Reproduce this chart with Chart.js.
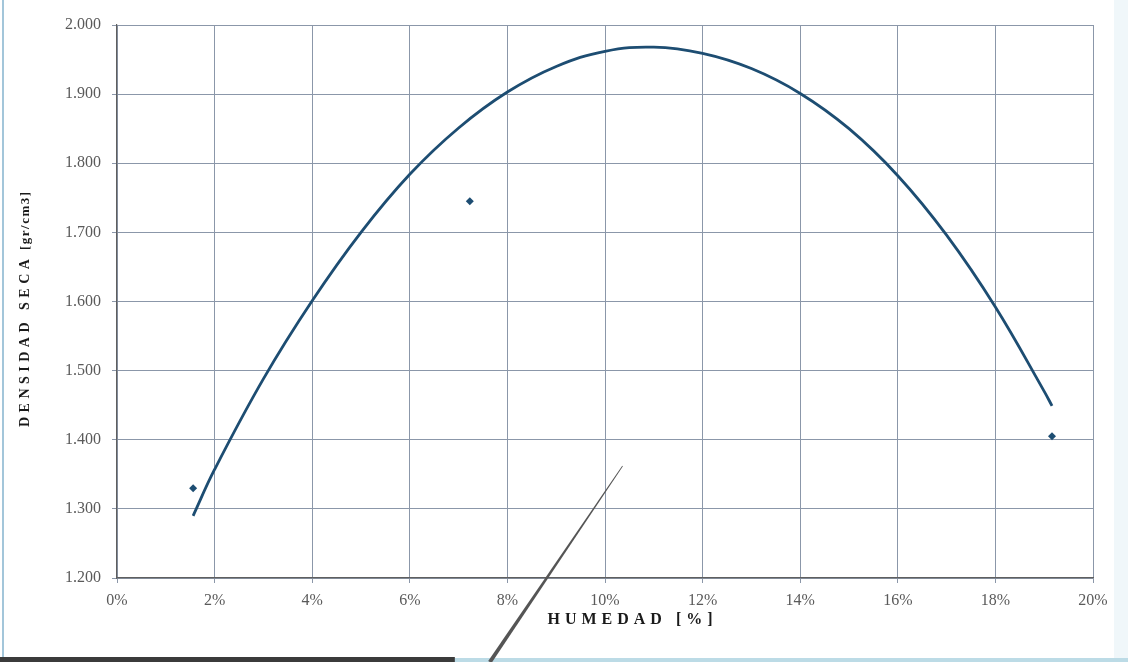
<!DOCTYPE html>
<html>
<head>
<meta charset="utf-8">
<script src="https://cdn.jsdelivr.net/npm/chart.js@4/dist/chart.umd.min.js"></script>
<style>
  html, body { margin: 0; padding: 0; background: #ffffff; }
  canvas { display: block; }
</style>
</head>
<body>
<canvas id="grafico" width="1128" height="662"></canvas>
<script>
// Curva de compactación (ajuste) : humedad [%] vs densidad seca [gr/cm3]
const humedadCurva  = [1.56, 2, 3, 4, 5, 6, 7, 8, 9, 10, 11, 12, 13, 14, 15, 16, 17, 18, 19, 19.16];
const densidadCurva = [1.290, 1.357, 1.488, 1.601, 1.700, 1.784, 1.851, 1.903, 1.940, 1.962, 1.968, 1.959, 1.937, 1.901, 1.850, 1.782, 1.696, 1.592, 1.470, 1.449];

// Ensayos medidos
const humedadMedida  = [1.56, 7.23, 19.16];
const densidadMedida = [1.330, 1.745, 1.405];

// Marcas de los ejes
const humedadTicks  = [0, 2, 4, 6, 8, 10, 12, 14, 16, 18, 20];
const densidadTicks = [1.2, 1.3, 1.4, 1.5, 1.6, 1.7, 1.8, 1.9, 2.0];

// Títulos de los ejes
const tituloX = 'HUMEDAD [%]';
const tituloY = 'DENSIDAD SECA';
const unidadY = '[gr/cm3]';

// Trazo de la flecha indicadora (punta en unidades del gráfico)
const flechaPunta = [10.36, 1.362];
const flechaBaseHumedad = 7.64;

const SERIF = '"Liberation Serif", "DejaVu Serif", serif';
const AZUL = '#1d4d72';
const REJILLA = '#8b97a9';

function anchoEspaciado(ctx, texto, esp) {
  let w = 0;
  for (const ch of texto) w += ctx.measureText(ch).width + esp;
  return w - esp;
}
function textoEspaciado(ctx, texto, x, y, esp) {
  for (const ch of texto) {
    ctx.fillText(ch, x, y);
    x += ctx.measureText(ch).width + esp;
  }
  return x;
}

// Marco de la hoja, títulos y flecha
const decoracion = {
  id: 'decoracion',
  beforeDraw(chart) {
    const ctx = chart.ctx;
    const W = chart.width, H = chart.height;
    ctx.save();
    ctx.fillStyle = '#ffffff';
    ctx.fillRect(0, 0, W, H);
    ctx.fillStyle = '#f0f7fa';
    ctx.fillRect(W - 14, 0, 14, H);
    ctx.restore();
  },
  afterDraw(chart) {
    const ctx = chart.ctx;
    const W = chart.width, H = chart.height;
    const area = chart.chartArea;
    const sx = chart.scales.x, sy = chart.scales.y;
    ctx.save();

    // borde izquierdo y borde inferior
    ctx.fillStyle = '#a3c6da';
    ctx.fillRect(2, 0, 2, H - 5);
    ctx.fillStyle = '#bcdbe6';
    ctx.fillRect(0, H - 4, W, 4);
    ctx.fillStyle = '#3b3b3b';
    ctx.fillRect(0, H - 5, sx.getPixelForValue(flechaBaseHumedad) - 35, 5);

    // flecha indicadora
    const px = sx.getPixelForValue(flechaPunta[0]);
    const py = sy.getPixelForValue(flechaPunta[1]);
    const bx = sx.getPixelForValue(flechaBaseHumedad);
    const by = H;
    const dx = px - bx, dy = py - by;
    const len = Math.hypot(dx, dy);
    const nx = -dy / len, ny = dx / len;
    ctx.fillStyle = '#555555';
    ctx.beginPath();
    ctx.moveTo(bx + nx * 2.0, by + ny * 2.0);
    ctx.lineTo(px + nx * 0.4, py + ny * 0.4);
    ctx.lineTo(px - nx * 0.4, py - ny * 0.4);
    ctx.lineTo(bx - nx * 2.0, by - ny * 2.0);
    ctx.closePath();
    ctx.fill();

    // título eje X
    ctx.fillStyle = '#1a1a1a';
    ctx.textBaseline = 'alphabetic';
    ctx.textAlign = 'left';
    ctx.font = 'bold 16px ' + SERIF;
    const espX = 5;
    const wX = anchoEspaciado(ctx, tituloX, espX);
    const cxX = (area.left + area.right) / 2 + 25;
    textoEspaciado(ctx, tituloX, cxX - wX / 2, area.bottom + 46, espX);

    // título eje Y (girado)
    ctx.font = 'bold 14px ' + SERIF;
    const espY = 4.5;
    const w1 = anchoEspaciado(ctx, tituloY, espY);
    ctx.font = 'bold 13px ' + SERIF;
    const espU = 1.5;
    const w2 = anchoEspaciado(ctx, unidadY, espU);
    const hueco = 9;
    const total = w1 + hueco + w2;
    ctx.translate(29, (area.top + area.bottom) / 2 + 8);
    ctx.rotate(-Math.PI / 2);
    ctx.font = 'bold 14px ' + SERIF;
    let x = textoEspaciado(ctx, tituloY, -total / 2, 0, espY);
    ctx.font = 'bold 13px ' + SERIF;
    textoEspaciado(ctx, unidadY, x - espY + hueco, 0, espU);

    ctx.restore();
  }
};

const puntosCurva = humedadCurva.map((h, i) => ({ x: h, y: densidadCurva[i] }));
const puntosMedidos = humedadMedida.map((h, i) => ({ x: h, y: densidadMedida[i] }));

new Chart(document.getElementById('grafico'), {
  type: 'scatter',
  data: {
    datasets: [
      {
        label: 'Curva',
        data: puntosCurva,
        showLine: true,
        borderColor: AZUL,
        borderWidth: 2.8,
        pointRadius: 0,
        tension: 0.4,
        fill: false,
        order: 2
      },
      {
        label: 'Ensayos',
        data: puntosMedidos,
        showLine: false,
        pointStyle: 'rectRot',
        pointRadius: 4,
        backgroundColor: AZUL,
        borderColor: AZUL,
        borderWidth: 0,
        order: 1
      }
    ]
  },
  options: {
    responsive: false,
    animation: false,
    devicePixelRatio: 1,
    layout: { padding: { left: 0, right: 35, top: 25, bottom: 0 } },
    plugins: {
      legend: { display: false },
      tooltip: { enabled: false }
    },
    scales: {
      x: {
        type: 'linear',
        min: 0,
        max: 20,
        afterBuildTicks: s => { s.ticks = humedadTicks.map(v => ({ value: v })); },
        afterFit: s => { s.height = 84; },
        ticks: {
          callback: v => v + '%',
          font: { family: SERIF, size: 16 },
          color: '#5a5a5a',
          padding: 8,
          maxRotation: 0,
          autoSkip: false
        },
        grid: { color: REJILLA, lineWidth: 1, tickLength: 5, drawTicks: true },
        border: { display: true, color: '#5f5f5f', width: 1.2 }
      },
      y: {
        type: 'linear',
        min: 1.2,
        max: 2.0,
        afterBuildTicks: s => { s.ticks = densidadTicks.map(v => ({ value: v })); },
        afterFit: s => { s.width = 117; },
        ticks: {
          callback: v => v.toFixed(3),
          font: { family: SERIF, size: 16 },
          color: '#5a5a5a',
          padding: 11,
          autoSkip: false
        },
        grid: { color: REJILLA, lineWidth: 1, tickLength: 5, drawTicks: true },
        border: { display: true, color: '#5f5f5f', width: 1.2 }
      }
    }
  },
  plugins: [decoracion]
});
</script>
</body>
</html>
